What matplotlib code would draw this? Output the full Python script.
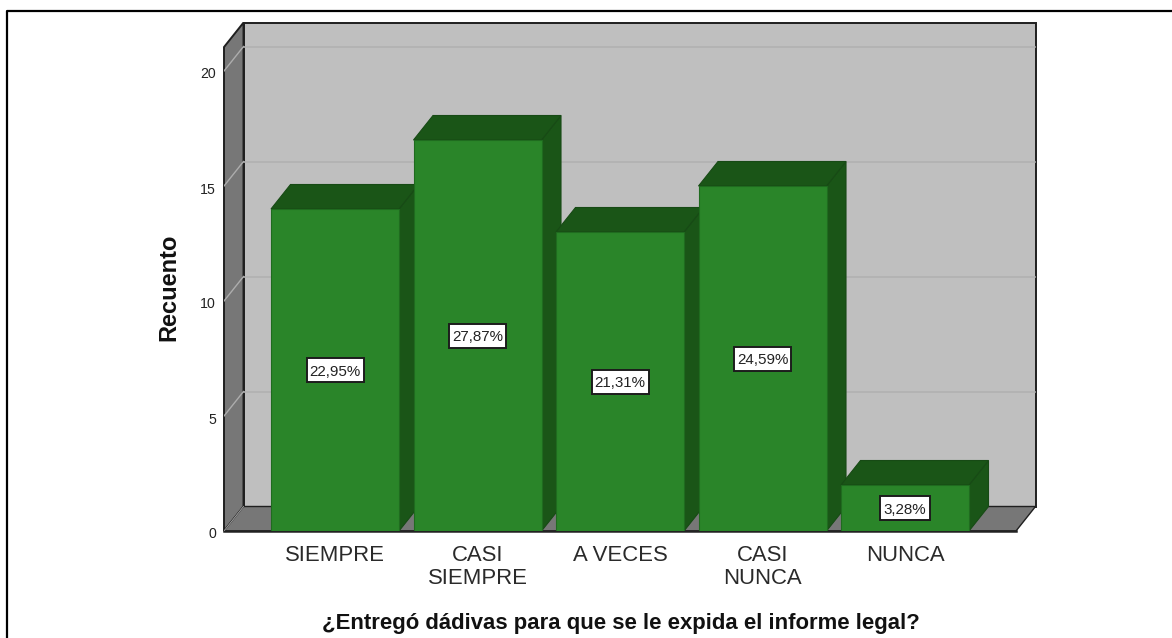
import matplotlib
matplotlib.use("Agg")
import matplotlib.pyplot as plt
from matplotlib.patches import Polygon, Rectangle

categories = ["SIEMPRE", "CASI\nSIEMPRE", "A VECES", "CASI\nNUNCA", "NUNCA"]
counts = [14, 17, 13, 15, 2]
percent_labels = ["22,95%", "27,87%", "21,31%", "24,59%", "3,28%"]
y_ticks = [0, 5, 10, 15, 20]
x_title = "¿Entregó dádivas para que se le expida el informe legal?"
y_title = "Recuento"

W, H = 1172, 638
plt.rcParams["font.family"] = ["Liberation Sans", "DejaVu Sans"]
fig = plt.figure(figsize=(W / 100, H / 100), dpi=100, facecolor="white")

# outer frame (open on the right and at the bottom)
fig.add_artist(plt.Line2D([6.5 / W, 6.5 / W, 1], [0, 1 - 10.5 / H, 1 - 10.5 / H],
                          color="#000000", lw=1.6))

PX_UNIT_Y = 23.0
PX_UNIT_X = 142.5
left, right, base, top = 224, 1036, 531, 22
ax = fig.add_axes([left / W, 1 - base / H, (right - left) / W, (base - top) / H])
x0 = -(335 - left) / PX_UNIT_X
ax.set_xlim(x0, x0 + (right - left) / PX_UNIT_X)
ax.set_ylim(0, (base - top) / PX_UNIT_Y)
ax.axis("off")

dx = 19.5 / PX_UNIT_X
dy = 24.5 / PX_UNIT_Y
bar_w = 128 / PX_UNIT_X
ymax = 21.04
xl = x0
xr = x0 + (1016 - left) / PX_UNIT_X

WALL = "#777777"
BACK = "#bfbfbf"
FRONT = "#2a8529"
DARK = "#1a5517"
EDGE = "#1f1f1f"

ax.add_patch(Rectangle((xl + dx, dy), xr - xl, ymax, fc=BACK, ec=EDGE, lw=1.4, zorder=1, clip_on=False))
ax.add_patch(Polygon([(xl, 0), (xl + dx, dy), (xl + dx, ymax + dy), (xl, ymax)],
                     fc=WALL, ec=EDGE, lw=1.4, zorder=2, clip_on=False))
ax.add_patch(Polygon([(xl, 0), (xr, 0), (xr + dx, dy), (xl + dx, dy)],
                     fc=WALL, ec=EDGE, lw=1.0, zorder=2, clip_on=False))
ax.plot([xl, xr], [0, 0], color="#222222", lw=1.8, zorder=3, clip_on=False)

for t in y_ticks[1:]:
    ax.plot([xl + dx, xr + dx - 0.005], [t + dy, t + dy], color="#b1b1b1", lw=1.2, zorder=2)
    ax.plot([xl, xl + dx], [t, t + dy], color="#adadad", lw=1.0, zorder=3)
ax.plot([xl, xl + dx], [0, dy], color="#a0a0a0", lw=0.7, zorder=3)

box_w = 57 / PX_UNIT_X
box_h = 24 / PX_UNIT_Y
for i, (c, lab) in enumerate(zip(counts, percent_labels)):
    a, b = i - bar_w / 2, i + bar_w / 2
    z = 4 + i
    ax.add_patch(Polygon([(b, 0), (b + dx, dy), (b + dx, c + dy), (b, c)],
                         fc=DARK, ec="#174a15", lw=0.8, zorder=z))
    ax.add_patch(Polygon([(a, c), (b, c), (b + dx, c + dy), (a + dx, c + dy)],
                         fc=DARK, ec="#174a15", lw=0.8, zorder=z))
    ax.add_patch(Rectangle((a, 0), bar_w, c, fc=FRONT, ec="#1f6b1f", lw=0.8, zorder=z))
    w = box_w if len(lab) > 5 else box_w * 0.86
    ax.add_patch(Rectangle((i - w / 2, c / 2 - box_h / 2), w, box_h, fc="white",
                           ec="#1c1c1c", lw=1.4, zorder=19))
    ax.text(i, c / 2, lab, ha="center", va="center_baseline", fontsize=10.9, color="#222222", zorder=20)
    ax.text(i, -14 / PX_UNIT_Y, categories[i], ha="center", va="top", fontsize=15.9,
            color="#2a2a2a", linespacing=1.12, clip_on=False)

for t in y_ticks:
    ax.text(xl - 8 / PX_UNIT_X, t - 3.5 / PX_UNIT_Y, str(t), ha="right", va="center", fontsize=10.2,
            color="#222222", clip_on=False)

fig.text(169 / W, 1 - 287 / H, y_title, rotation=90, ha="center", va="center",
         fontsize=17, fontweight="bold", color="#111111")
fig.text(620.5 / W, 1 - 624 / H, x_title, ha="center", va="center",
         fontsize=15.9, fontweight="bold", color="#111111")

fig.savefig("out.png", dpi=100, facecolor="white")
